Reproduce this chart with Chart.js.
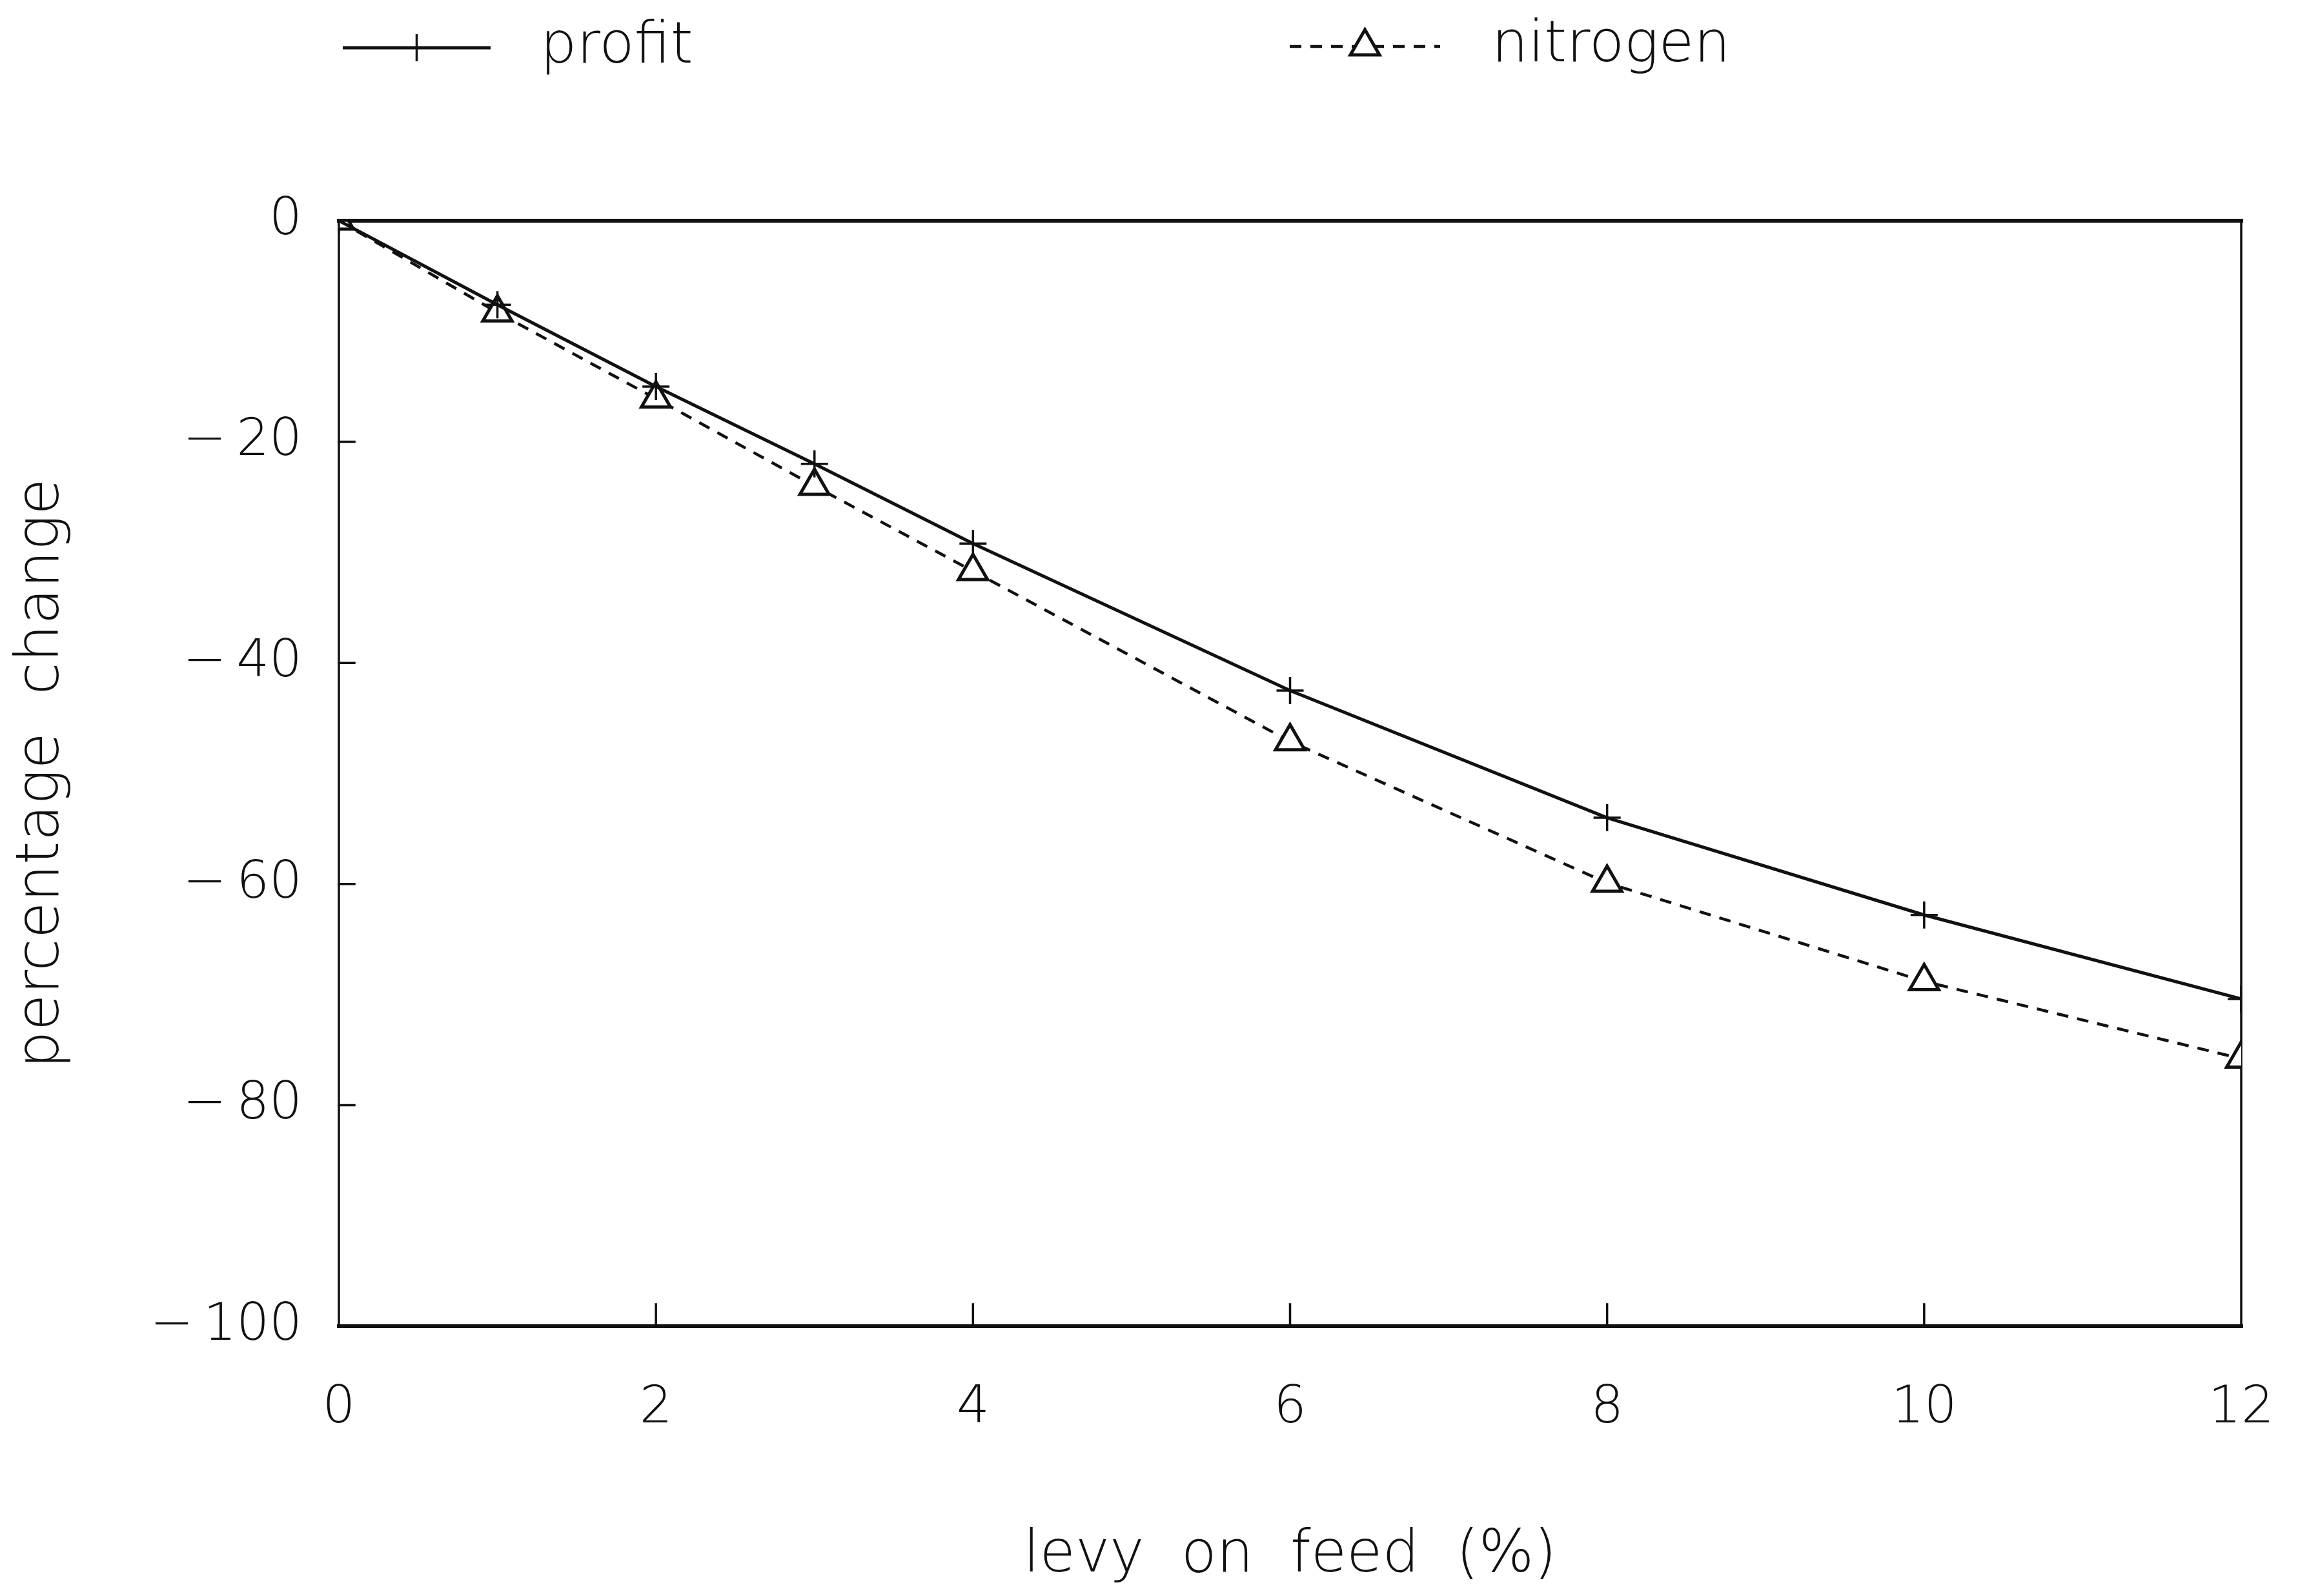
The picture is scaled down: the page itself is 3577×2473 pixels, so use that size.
<!DOCTYPE html>
<html>
<head>
<meta charset="utf-8">
<title>levy on feed</title>
<script src="https://cdn.jsdelivr.net/npm/chart.js@4/dist/chart.umd.min.js"></script>
<style>
  html, body { margin: 0; padding: 0; background: #fff; }
  #wrap { width: 3577px; height: 2473px; position: relative; }
</style>
</head>
<body>
<div id="wrap"><canvas id="chart"></canvas></div>
<script>
// values
const levy = [0, 1, 2, 3, 4, 6, 8, 10, 12];
const profit = [0, -7.6, -15.0, -22.0, -29.2, -42.5, -54.0, -62.8, -70.4];
const nitrogen = [0, -8.3, -16.1, -24.0, -31.7, -47.1, -59.9, -68.8, -75.8];
const xTicks = [0, 2, 4, 6, 8, 10, 12];
const yTicks = [0, -20, -40, -60, -80, -100];

const FONT = "'DejaVu Sans', sans-serif";
const INK = '#111';

const toPoints = (ys) => ys.map((y, i) => ({ x: levy[i], y: y }));
const fmt = (v) => v < 0 ? '\u2212\u2009' + Math.abs(v) : String(v);

// box round the plot, inward ticks, white background
const framePlugin = {
    id: 'frame',
    beforeDraw(chart) {
        const ctx = chart.ctx;
        ctx.save();
        ctx.fillStyle = '#fff';
        ctx.fillRect(0, 0, chart.width, chart.height);
        ctx.restore();
    },
    beforeDatasetsDraw(chart) {
        const { ctx, chartArea: a, scales } = chart;
        ctx.save();
        ctx.strokeStyle = INK;
        ctx.lineCap = 'square';

        // top and bottom are heavier in the original
        ctx.lineWidth = 6;
        ctx.beginPath();
        ctx.moveTo(a.left, a.top); ctx.lineTo(a.right, a.top);
        ctx.moveTo(a.left, a.bottom); ctx.lineTo(a.right, a.bottom);
        ctx.stroke();
        ctx.lineWidth = 3.5;
        ctx.beginPath();
        ctx.moveTo(a.left, a.top); ctx.lineTo(a.left, a.bottom);
        ctx.moveTo(a.right, a.top); ctx.lineTo(a.right, a.bottom);
        ctx.stroke();

        // inward tick marks
        ctx.lineWidth = 3.5;
        ctx.beginPath();
        yTicks.slice(1, -1).forEach(v => {
            const y = scales.y.getPixelForValue(v);
            ctx.moveTo(a.left, y); ctx.lineTo(a.left + 24, y);
        });
        xTicks.slice(1, -1).forEach(v => {
            const x = scales.x.getPixelForValue(v);
            ctx.moveTo(x, a.bottom); ctx.lineTo(x, a.bottom - 34);
        });
        ctx.stroke();
        ctx.restore();
    }
};

// legend row across the top: short line + marker, then the label
const legendPlugin = {
    id: 'topLegend',
    afterDraw(chart) {
        const ctx = chart.ctx;
        const items = [
            { ds: 0, x1: 531, x2: 760, textX: 837, y: 74 },
            { ds: 1, x1: 1998, x2: 2231, textX: 2311, y: 72 }
        ];
        ctx.save();
        items.forEach(it => {
            const ds = chart.data.datasets[it.ds];
            ctx.strokeStyle = INK;
            ctx.lineWidth = ds.borderWidth;
            ctx.setLineDash(ds.borderDash || []);
            ctx.beginPath();
            ctx.moveTo(it.x1, it.y);
            ctx.lineTo(it.x2, it.y);
            ctx.stroke();
            ctx.setLineDash([]);
            ctx.fillStyle = '#fff';
            ctx.lineWidth = ds.pointBorderWidth;
            Chart.helpers.drawPoint(ctx, {
                pointStyle: ds.pointStyle,
                radius: ds.pointRadius,
                borderWidth: ds.pointBorderWidth,
                rotation: 0
            }, (it.x1 + it.x2) / 2, it.y);
            ctx.fillStyle = INK;
            ctx.font = '200 89px ' + FONT;
            ctx.textAlign = 'left';
            ctx.textBaseline = 'middle';
            ctx.fillText(ds.label, it.textX, it.y);
        });
        ctx.restore();
    }
};

new Chart(document.getElementById('chart'), {
    type: 'line',
    data: {
        datasets: [
            {
                label: 'profit',
                data: toPoints(profit),
                borderColor: INK,
                borderWidth: 5,
                pointStyle: 'cross',
                pointRadius: 21,
                pointBorderWidth: 3.5,
                pointBorderColor: INK,
                pointBackgroundColor: '#fff',
                tension: 0
            },
            {
                label: 'nitrogen',
                data: toPoints(nitrogen),
                borderColor: INK,
                borderWidth: 4.5,
                borderDash: [18, 14],
                pointStyle: 'triangle',
                pointRadius: 26,
                pointBorderWidth: 5,
                pointBorderColor: INK,
                pointBackgroundColor: '#fff',
                tension: 0
            }
        ]
    },
    options: {
        responsive: true,
        maintainAspectRatio: false,
        devicePixelRatio: 1,
        animation: false,
        layout: { padding: { left: 0, right: 105, top: 342, bottom: 0 } },
        plugins: {
            legend: { display: false },
            tooltip: { enabled: false }
        },
        scales: {
            x: {
                type: 'linear',
                min: 0,
                max: 12,
                afterBuildTicks: (s) => { s.ticks = xTicks.map(v => ({ value: v })); },
                afterFit: (s) => {
                    s.height = 418;
                    s.paddingLeft = 0;
                    s.paddingRight = 0;
                },
                grid: { display: false, drawTicks: false },
                border: { display: false },
                ticks: {
                    padding: 80,
                    color: INK,
                    font: { family: FONT, size: 80, weight: 200 },
                    maxRotation: 0,
                    callback: fmt
                },
                title: {
                    display: true,
                    text: 'levy  on  feed  (%)',
                    color: INK,
                    font: { family: FONT, size: 90, weight: 200 },
                    padding: { top: 0, bottom: 7 }
                }
            },
            y: {
                type: 'linear',
                min: -100,
                max: 0,
                afterBuildTicks: (s) => { s.ticks = yTicks.map(v => ({ value: v })); },
                afterFit: (s) => {
                    s.width = 525;
                    s.paddingTop = 0;
                    s.paddingBottom = 0;
                },
                grid: { display: false, drawTicks: false },
                border: { display: false },
                ticks: {
                    padding: 57,
                    color: INK,
                    font: { family: FONT, size: 80, weight: 200 },
                    callback: fmt
                },
                title: {
                    display: true,
                    text: 'percentage  change',
                    color: INK,
                    font: { family: FONT, size: 92, weight: 200 },
                    padding: { top: 11, bottom: 0 }
                }
            }
        }
    },
    plugins: [framePlugin, legendPlugin]
});
</script>
</body>
</html>
